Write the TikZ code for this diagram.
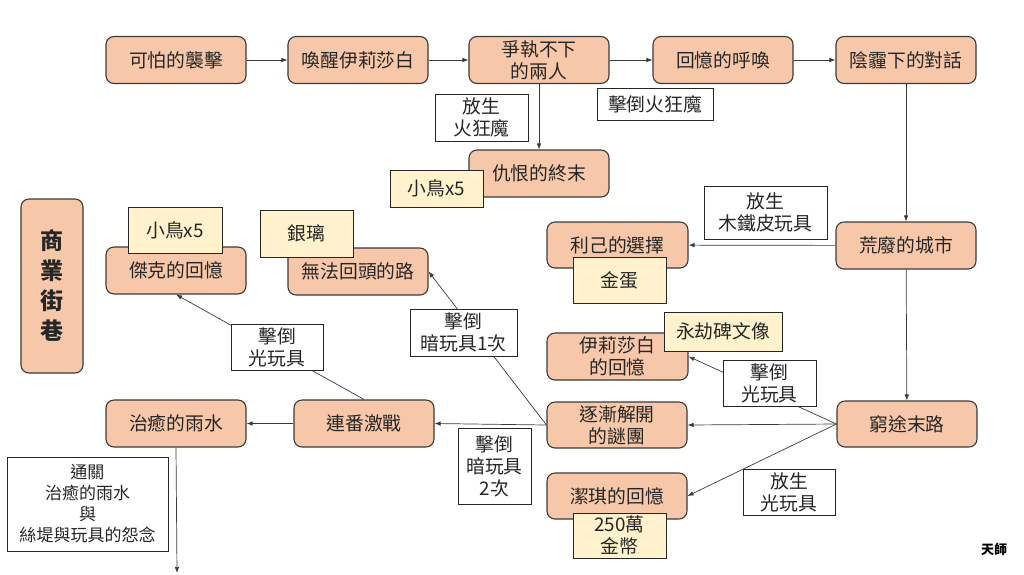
\documentclass[tikz,border=0pt]{standalone}
\usepackage{fontspec}
\setmainfont{Noto Sans CJK TC}
\newfontfamily\cjk{Noto Sans CJK TC}
\usetikzlibrary{arrows.meta}
\definecolor{boxfill}{HTML}{F6C8A9}
\definecolor{itemfill}{HTML}{FFF2CC}
\definecolor{edge}{HTML}{3A3A3A}
\definecolor{txt}{HTML}{262626}
\tikzset{
  base/.style={font=\cjk\fontsize{18.8}{22}\selectfont, text=txt, align=center, inner sep=0pt},
  stage/.style={base, draw=edge, line width=1.1pt, fill=boxfill, rounded corners=8pt, minimum width=140pt, minimum height=47pt},
  item/.style={base, draw=black!85, line width=1pt, fill=itemfill, minimum width=93pt, minimum height=46pt},
  cond/.style={base, draw=black!85, line width=1pt, fill=white, minimum width=93pt, minimum height=46pt},
  conn/.style={draw=edge, line width=0.7pt, -{Latex[length=6pt,width=4.5pt]}}
}
\begin{document}
\begin{tikzpicture}[x=1pt,y=-1pt]
\useasboundingbox (0,0) rectangle (1024,574);
% main stages
\node[stage] (n1) at (176,60) {可怕的襲擊};
\node[stage] (n2) at (358,60) {喚醒伊莉莎白};
\node[stage] (n3) at (539,60) {爭執不下\\的兩人};
\node[stage] (n4) at (723,60) {回憶的呼喚};
\node[stage] (n5) at (906,60) {陰霾下的對話};
\node[stage] (n6) at (539,173.5) {仇恨的終末};
\node[stage] (n7) at (906,245.5) {荒廢的城市};
\node[stage, minimum width=141pt, minimum height=46pt] (n8) at (617.5,245) {利己的選擇};
\node[stage, minimum width=141pt] (n9) at (617.5,356.5) {伊莉莎白\\的回憶};
\node[stage, minimum height=46pt] (n10) at (907,424) {窮途末路};
\node[stage, minimum height=46pt] (n11) at (617,425) {逐漸解開\\的謎團};
\node[stage, minimum height=46pt] (n12) at (617,496) {潔琪的回憶};
\node[stage] (n13) at (364,423.5) {連番激戰};
\node[stage] (n14) at (176,423.5) {治癒的雨水};
\node[stage] (n15) at (176,270.5) {傑克的回憶};
\node[stage] (n16) at (358,271.5) {無法回頭的路};
\node[stage, minimum width=62pt, minimum height=174pt, font=\cjk\bfseries\fontsize{23}{30}\selectfont] (side) at (52,286) {商\\業\\街\\巷};
\coordinate (end) at (177,573);
% connectors
\draw[conn] (n1) -- (n2);
\draw[conn] (n2) -- (n3);
\draw[conn] (n3) -- (n4);
\draw[conn] (n4) -- (n5);
\draw[conn] (n3) -- (n6);
\draw[conn] (n5) -- (n7);
\draw[conn] (n7) -- (n8);
\draw[conn] (n7) -- (n10);
\draw[conn] (n10.west) -- (n11.east);
\draw[conn] (n10.west) -- (n9.east);
\draw[conn] (n10.west) -- (n12.east);
\draw[conn] (n11.west) -- (n13.east);
\draw[conn] (n11.west) -- (n16.east);
\draw[conn] (n13.west) -- (n14.east);
\draw[conn] (n13.north) -- (n15.south);
\draw[conn] (n14.south) -- (end);
% condition labels
\node[cond, minimum height=47pt] (l1) at (481.5,117.5) {放生\\火狂魔};
\node[cond, minimum width=116pt, minimum height=32pt] (l2) at (655,104) {擊倒火狂魔};
\node[cond, minimum width=123pt, minimum height=53pt] (l3) at (765.5,212.5) {放生\\木鐵皮玩具};
\node[cond] (l4) at (769.5,383) {擊倒\\光玩具};
\node[cond, minimum width=92pt] (l5) at (789,492) {放生\\光玩具};
\node[cond, minimum width=161pt, minimum height=94pt, font=\cjk\fontsize{17}{21}\selectfont] (l6) at (87.5,504) {通關\\治癒的雨水\\與\\絲堤與玩具的怨念};
\node[cond, minimum width=73pt, minimum height=76pt] (l7) at (494.5,466) {擊倒\\暗玩具\\2次};
\node[cond, minimum width=107pt, minimum height=47pt] (l8) at (463.5,332.5) {擊倒\\暗玩具1次};
\node[cond, minimum width=92pt] (l9) at (277,347) {擊倒\\光玩具};
% items
\node[item, minimum height=37pt] (i1) at (436.5,188.5) {小鳥x5};
\node[item] (i2) at (619.5,280) {金蛋};
\node[item, minimum width=118pt, minimum height=39pt] (i3) at (723,331.5) {永劫碑文像};
\node[item, minimum height=45pt] (i4) at (619.5,535.5) {250萬\\金幣};
\node[item, minimum width=94pt] (i5) at (175,230) {小鳥x5};
\node[item, minimum height=47pt] (i6) at (306.5,233.5) {銀璃};
% credit
\node[base, font=\cjk\bfseries\fontsize{13}{15}\selectfont, text=black] (credit) at (994,550) {天師};
\end{tikzpicture}
\end{document}
